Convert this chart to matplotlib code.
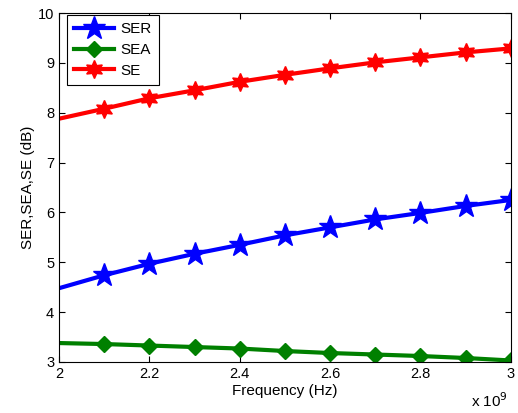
import matplotlib.pyplot as plt
import numpy as np

plt.rcParams['font.family'] = ['Liberation Sans', 'DejaVu Sans']

freq = [2.0, 2.1, 2.2, 2.3, 2.4, 2.5, 2.6, 2.7, 2.8, 2.9, 3.0]
ser = [4.48, 4.74, 4.97, 5.17, 5.35, 5.54, 5.70, 5.86, 5.99, 6.13, 6.25]
sea = [3.38, 3.36, 3.33, 3.30, 3.27, 3.22, 3.18, 3.15, 3.12, 3.08, 3.03]
se = [7.88, 8.08, 8.29, 8.45, 8.62, 8.76, 8.89, 9.01, 9.11, 9.21, 9.29]

fig = plt.figure(figsize=(5.18, 4.13), dpi=100)
ax = fig.add_axes([0.114, 0.1235, 0.872, 0.845])

# markers from 2.1 GHz on, the line itself starts at 2 GHz
marks = list(range(1, len(freq)))
ax.plot(freq, ser, color='#0000ff', lw=3, marker='*', ms=17,
        markevery=marks, label='SER')
ax.plot(freq, sea, color='#008000', lw=3, marker='D', ms=8,
        markevery=marks, label='SEA')
ax.plot(freq, se, color='#ff0000', lw=3, marker=(6, 1, 0), ms=13,
        markevery=marks, label='SE')

ax.set_xlim(2, 3)
ax.set_ylim(3, 10)
ax.set_xticks(np.arange(2, 3.01, 0.2))
ax.set_xticklabels(['2', '2.2', '2.4', '2.6', '2.8', '3'])
ax.set_yticks(range(3, 11))
ax.tick_params(direction='in', top=True, right=True, labelsize=10.5, length=4)
ax.set_xlabel('Frequency (Hz)', fontsize=11, labelpad=2)
ax.set_ylabel('SER,SEA,SE (dB)', fontsize=11, labelpad=2)
ax.text(0.993, -0.085, r'x 10$^9$', transform=ax.transAxes, fontsize=11,
        ha='right', va='top')

leg = ax.legend(loc='upper left', bbox_to_anchor=(0.0177, 0.994),
                borderaxespad=0, fontsize=11, fancybox=False, framealpha=1,
                edgecolor='black', handlelength=2.6, labelspacing=0.45,
                handletextpad=0.45, borderpad=0.45)
leg.get_frame().set_linewidth(0.8)

fig.savefig('out.png', dpi=100)
